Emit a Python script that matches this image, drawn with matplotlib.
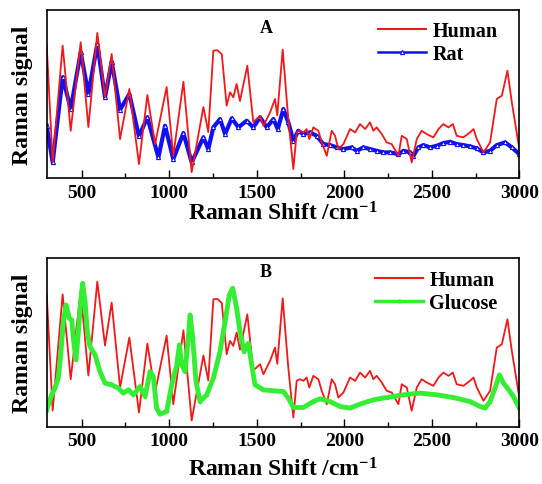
import numpy as np
import matplotlib
matplotlib.use("Agg")
from matplotlib import pyplot as plt
from matplotlib.lines import Line2D

# Human spectrum (same in both panels)
human_x = [300, 334, 391, 437, 494, 538, 589, 633, 671, 719, 772, 827, 875, 919, 985,
           1023, 1081, 1128, 1195, 1223, 1252, 1275, 1300, 1328, 1347, 1366, 1385, 1404,
           1446, 1480, 1519, 1538, 1576, 1604, 1617, 1648, 1680, 1709, 1728, 1745, 1766,
           1785, 1800, 1823, 1852, 1871, 1900, 1928, 1947, 1966, 1995, 2033, 2062, 2090,
           2119, 2147, 2166, 2185, 2214, 2242, 2271, 2309, 2328, 2357, 2385, 2414, 2442,
           2471, 2509, 2538, 2566, 2595, 2620, 2642, 2680, 2718, 2738, 2757, 2795, 2833,
           2871, 2900, 2932, 2957, 3000]
human_y = [132.6, 16.3, 132.6, 47.6, 136, 51.3, 145.3, 81.3, 124.3, 39.3, 89.3, 14.3, 83.3,
           34.3, 91.3, 22.6, 96.6, 6.3, 71.3, 46.3, 127.6, 128, 124, 72.6, 86, 81, 94.3, 77.3,
           112.6, 56.3, 62.6, 52.6, 66, 79.3, 63, 128.6, 59.3, 9.3, 46, 47.6, 46,
           49.3, 39.3, 51, 47.6, 36, 22.6, 47.6, 42.6, 29.3, 34.3, 49.3, 46, 54.3,
           49.3, 56, 47.6, 51, 44.3, 36, 34.3, 22.6, 42.6, 39.3, 16, 39.3, 47.6,
           44.3, 41, 49.3, 54.3, 51, 54.3, 42.6, 41, 46, 49.3, 39.3, 26, 36,
           79.3, 82.6, 107.6, 76, 29.3]

# Rat spectrum (panel A)
rat_x = [300, 334, 391, 437, 494, 538, 589, 633, 671, 719, 772, 827, 875, 938, 976, 1023,
         1081, 1128, 1195, 1223, 1252, 1290, 1319, 1357, 1395, 1442, 1480, 1519, 1557,
         1595, 1620, 1652, 1680, 1709, 1737, 1766, 1804, 1842, 1880, 1918, 1957, 1995,
         2042, 2071, 2109, 2147, 2185, 2223, 2261, 2309, 2338, 2376, 2395, 2423, 2452,
         2490, 2528, 2566, 2604, 2642, 2680, 2718, 2757, 2795, 2833, 2871, 2919, 2957, 3000]
rat_y = [52.6, 16, 101, 69.3, 126, 84.3, 134.3, 81, 116.6, 68.6, 84.3, 42, 61, 21, 52.6,
         19.3, 45.3, 16, 41, 29.3, 51, 59.3, 44.3, 60, 51, 57.6, 51, 61, 51,
         59.3, 49.3, 69.3, 56, 37.6, 47.6, 44.3, 46, 42.6, 34.3, 33.3, 31, 29.3,
         31, 27.6, 31, 29.3, 27.6, 26, 26, 24.3, 27.6, 26, 22.6, 31, 33.3,
         31, 32.6, 35.3, 36.6, 34.3, 33.3, 32, 30, 26, 27.6, 33.3, 36, 31, 24.3]

# Glucose spectrum (panel B)
glu_x = [300, 328, 347, 366, 380, 395, 410, 429, 443, 452, 467, 481, 494, 505, 519, 532,
         547, 576, 604, 633, 671, 709, 738, 767, 795, 833, 862, 890, 909, 928, 947, 985,
         1014, 1043, 1058, 1071, 1090, 1109, 1119, 1134, 1153, 1176, 1214, 1252, 1290,
         1319, 1343, 1362, 1385, 1404, 1427, 1452, 1471, 1490, 1538, 1595, 1652, 1680,
         1709, 1766, 1823, 1861, 1918, 1976, 2033, 2090, 2166, 2242, 2338, 2433, 2528,
         2623, 2718, 2776, 2804, 2833, 2861, 2886, 2909, 2932, 2966, 3000]
glu_y = [17, 32, 38.7, 48.7, 72, 105.3, 122, 108.7, 107, 88.7, 67, 95.3, 125.3, 143.7, 125.3,
         95.3, 80.3, 72, 55.3, 43.7, 42, 38.7, 33.7, 37, 32, 40.3, 30.3, 55.3, 50.3, 18.7,
         12.7, 15.3, 42, 62, 82, 62, 55.3, 88.7, 112, 88.7, 45.3, 25.3, 32, 48.7, 75.3,
         105.3, 132, 138.7, 118.7, 95.3, 75.3, 83.7, 62, 42, 37, 36, 35.3, 28.7,
         19.3, 19.3, 25.3, 28, 25.3, 20.3, 18.7, 22.7, 27, 29.3, 32, 33.7, 32,
         29.3, 25.3, 20.3, 18.7, 25.3, 38.7, 52, 43.7, 38.7, 30.3, 18.7]

plt.rcParams['font.family'] = ['Liberation Serif', 'DejaVu Serif']
plt.rcParams['font.weight'] = 'bold'
plt.rcParams['mathtext.fontset'] = 'custom'
plt.rcParams['mathtext.rm'] = 'Liberation Serif:bold'
plt.rcParams['mathtext.bf'] = 'Liberation Serif:bold'
plt.rcParams['mathtext.default'] = 'bf'

fig = plt.figure(figsize=(5.42, 4.85), dpi=100)
axA = fig.add_axes([0.0862, 0.630, 0.872, 0.348])
axB = fig.add_axes([0.0862, 0.118, 0.872, 0.347])

red = '#f01818'
blue = '#1010f0'
green = '#33ee33'

axA.plot(rat_x, rat_y, color=blue, lw=3, marker='^', ms=3, mfc='white', mew=0.8)
axA.plot(human_x, human_y, color=red, lw=1.3)

axB.plot(human_x, human_y, color=red, lw=1.3)
axB.plot(glu_x, glu_y, color=green, lw=3.5, marker='o', ms=2.5, mew=0)

for ax, letter, ly, lpad in [(axA, 'A', 0.897, 0), (axB, 'B', 0.925, 6)]:
    ax.set_xlim(300, 3000)
    ax.set_ylim(0, 168.5)
    ax.set_xticks([500, 1000, 1500, 2000, 2500, 3000])
    ax.set_xticks([750, 1250, 1750, 2250, 2750], minor=True)
    ax.set_yticks([])
    ax.tick_params(axis='x', which='major', direction='in', length=6, width=1, pad=4,
                   labelsize=14)
    ax.tick_params(axis='x', which='minor', direction='in', length=3.5, width=1)
    for lab in ax.get_xticklabels():
        lab.set_fontweight('bold')
    for s in ax.spines.values():
        s.set_linewidth(1.2)
    ax.set_xlabel('Raman Shift /cm$^{-1}$', fontsize=17, fontweight='bold',
                  labelpad=lpad)
    ax.set_ylabel('Raman signal', fontsize=17, fontweight='bold', labelpad=10)
    ax.text(0.464, ly, letter, transform=ax.transAxes, fontsize=13, fontweight='bold',
            ha='center', va='center')

legA = [Line2D([], [], color=red, lw=1.5),
        Line2D([], [], color=blue, lw=1.8, marker='^', ms=3, mfc='white', mew=0.8)]
legB = [Line2D([], [], color=red, lw=1.5),
        Line2D([], [], color=green, lw=2.5, marker='o', ms=3, mew=0)]
axA.legend(legA, ['Human', 'Rat'], loc='upper right', frameon=False,
           fontsize=14.5, handlelength=2.4, handletextpad=0.3, labelspacing=0.15,
           borderaxespad=0.1, bbox_to_anchor=(0.975, 0.99), numpoints=1)
axB.legend(legB, ['Human', 'Glucose'], loc='upper right', frameon=False,
           fontsize=14.5, handlelength=2.4, handletextpad=0.3, labelspacing=0.15,
           borderaxespad=0.1, bbox_to_anchor=(0.975, 0.99), numpoints=1)

fig.savefig('out.png', dpi=100)
